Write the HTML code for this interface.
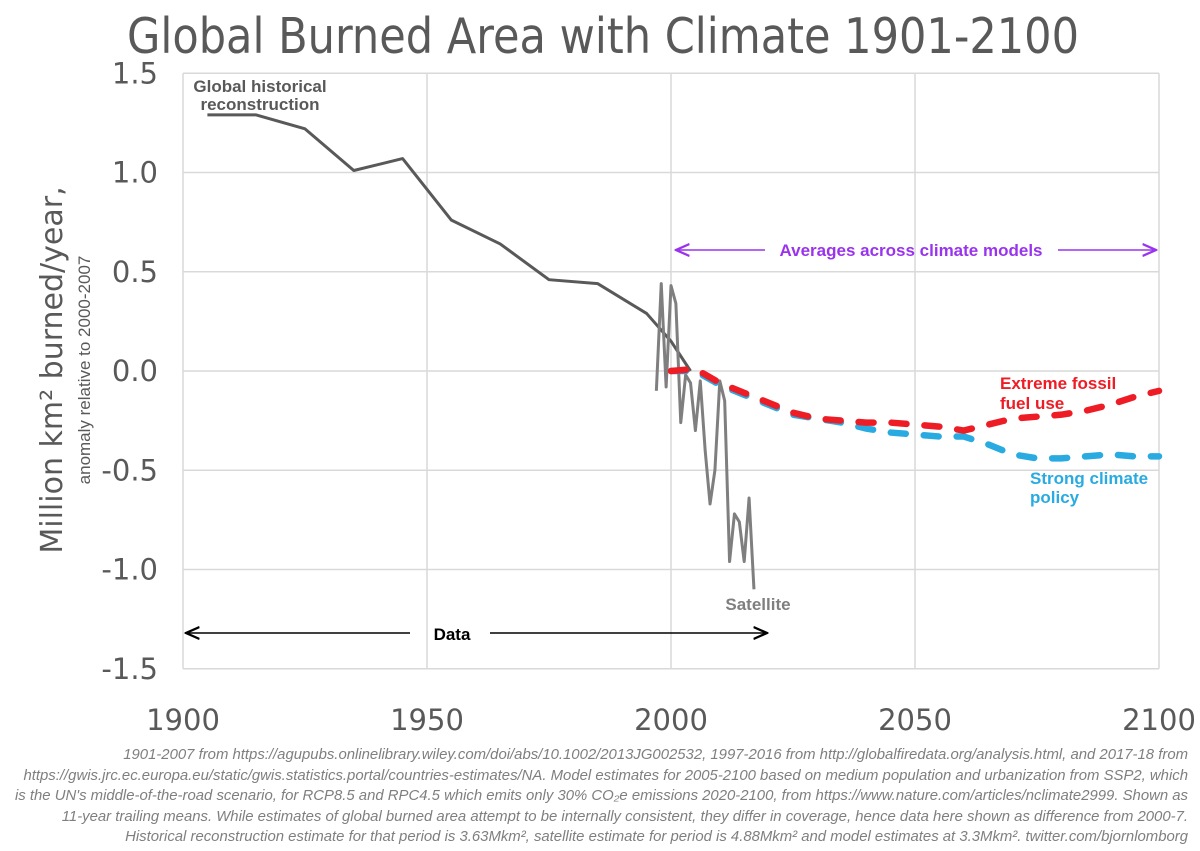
<!DOCTYPE html>
<html><head><meta charset="utf-8"><style>
body{margin:0;background:#fff;width:1200px;height:851px;overflow:hidden;font-family:"Liberation Sans",sans-serif}
.t{position:absolute}
</style></head><body>
<svg id="c" width="1200" height="851" style="position:absolute;left:0;top:0">
<defs><marker id="ab" markerWidth="10" markerHeight="10" refX="9" refY="5" orient="auto"><path d="M0,1 L9,5 L0,9" fill="none" stroke="#000" stroke-width="1.5"/></marker>
<marker id="ap" markerWidth="10" markerHeight="10" refX="9" refY="5" orient="auto"><path d="M0,1 L9,5 L0,9" fill="none" stroke="#9933ee" stroke-width="1.5"/></marker></defs>
<text x="127" y="53" font-size="49" fill="#595959" font-family="DejaVu Sans,Liberation Sans,sans-serif" textLength="952" lengthAdjust="spacingAndGlyphs">Global Burned Area with Climate 1901-2100</text>
</svg>
<div class="t" style="right:12px;top:745px;width:1195px;text-align:right;font-size:14.9px;line-height:20.5px;color:#7f7f7f;font-style:italic;white-space:nowrap">1901-2007 from https://agupubs.onlinelibrary.wiley.com/doi/abs/10.1002/2013JG002532, 1997-2016 from http://globalfiredata.org/analysis.html, and 2017-18 from<br>https://gwis.jrc.ec.europa.eu/static/gwis.statistics.portal/countries-estimates/NA. Model estimates for 2005-2100 based on medium population and urbanization from SSP2, which<br>is the UN's middle-of-the-road scenario, for RCP8.5 and RPC4.5 which emits only 30% CO₂e emissions 2020-2100, from https://www.nature.com/articles/nclimate2999. Shown as<br>11-year trailing means. While estimates of global burned area attempt to be internally consistent, they differ in coverage, hence data here shown as difference from 2000-7.<br>Historical reconstruction estimate for that period is 3.63Mkm², satellite estimate for period is 4.88Mkm² and model estimates at 3.3Mkm². twitter.com/bjornlomborg</div>
<script>
const xTicks=[1900,1950,2000,2050,2100];
const yTicks=[1.5,1.0,0.5,0.0,-0.5,-1.0,-1.5];
const histYears=[1905,1915,1925,1935,1945,1955,1965,1975,1985,1995,2000,2004];
const histVals=[1.29,1.29,1.22,1.01,1.07,0.76,0.64,0.46,0.44,0.29,0.15,0.0];
const satYears=[1997,1998,1999,2000,2001,2002,2003,2004,2005,2006,2007,2008,2009,2010,2011,2012,2013,2014,2015,2016,2017];
const satVals=[-0.1,0.44,-0.08,0.43,0.34,-0.26,-0.02,-0.06,-0.30,-0.05,-0.40,-0.67,-0.50,-0.05,-0.15,-0.96,-0.72,-0.76,-0.96,-0.64,-1.1];
const modelYears=[2000,2005,2010,2015,2020,2025,2030,2035,2040,2045,2050,2055,2060,2065,2070,2075,2080,2085,2090,2095,2100];
const highVals=[0.0,0.01,-0.06,-0.11,-0.16,-0.21,-0.24,-0.25,-0.26,-0.26,-0.27,-0.28,-0.30,-0.27,-0.24,-0.23,-0.22,-0.20,-0.17,-0.13,-0.10];
const lowVals=[0.0,0.0,-0.07,-0.12,-0.17,-0.22,-0.24,-0.26,-0.29,-0.31,-0.32,-0.33,-0.33,-0.37,-0.42,-0.44,-0.44,-0.43,-0.42,-0.43,-0.43];
const X=y=>183+(y-1900)*4.88, Y=v=>371-v*198.5;
const svg=document.getElementById('c'),NS='http://www.w3.org/2000/svg';
function mk(t,a,p){const e=document.createElementNS(NS,t);for(const k in a)e.setAttribute(k,a[k]);(p||svg).appendChild(e);return e;}
let e;
xTicks.forEach(t=>{e=mk('line',{x1:X(t),x2:X(t),y1:Y(1.5),y2:Y(-1.5),stroke:'#d9d9d9','stroke-width':1.5});

e=mk('text',{x:X(t),y:730,'text-anchor':'middle','font-size':29,fill:'#595959','font-family':'DejaVu Sans,Liberation Sans,sans-serif'});e.textContent=t;
});
yTicks.forEach(t=>{e=mk('line',{x1:X(1900),x2:X(2100),y1:Y(t),y2:Y(t),stroke:'#d9d9d9','stroke-width':1.5});

e=mk('text',{x:158,y:Y(t)+10,'text-anchor':'end','font-size':29,fill:'#595959','font-family':'DejaVu Sans,Liberation Sans,sans-serif'});e.textContent=t.toFixed(1);
});
function line(xs,vs,attr,name){e=mk('polyline',Object.assign({points:xs.map((x,i)=>X(x)+','+Y(vs[i])).join(' '),fill:'none'},attr));
}
line(histYears,histVals,{stroke:'#595959','stroke-width':3,'stroke-linejoin':'round'},'historical-line');
line(satYears,satVals,{stroke:'#7f7f7f','stroke-width':3,'stroke-linejoin':'round'},'satellite-line');
line(modelYears,lowVals,{stroke:'#29abe2','stroke-width':6.5,'stroke-dasharray':'15 18','stroke-linecap':'round'},'strong-policy-line');
line(modelYears,highVals,{stroke:'#ee1c25','stroke-width':6.5,'stroke-dasharray':'15 18','stroke-linecap':'round'},'fossil-fuel-line');
function txt(s,x,y,sz,col,name,anchor){e=mk('text',{x:x,y:y,'font-size':sz,fill:col,'font-weight':'bold','text-anchor':anchor||'start'});e.textContent=s;
}
txt('Global historical',260,92,17,'#595959','historical-label','middle');
txt('reconstruction',260,110,17,'#595959','historical-label-2','middle');
txt('Satellite',758,610,17,'#7f7f7f','satellite-label','middle');
txt('Extreme fossil',1000,389,17,'#ee1c25','fossil-label');
txt('fuel use',1000,409,17,'#ee1c25','fossil-label-2');
txt('Strong climate',1030,484,17,'#29abe2','policy-label');
txt('policy',1030,503,17,'#29abe2','policy-label-2');
txt('Averages across climate models',911,256,17,'#9933ee','models-arrow-label','middle');
txt('Data',452,640,17,'#000','data-arrow-label','middle');
function arr(x1,x2,y,c,m,name){e=mk('line',{x1:x1,x2:x2,y1:y,y2:y,stroke:c,'stroke-width':1.5,'marker-end':'url(#'+m+')'});}
arr(765,676,250,'#9933ee','ap','models-arrow-left');arr(1058,1156,250,'#9933ee','ap','models-arrow-right');
arr(410,186,633,'#000','ab','data-arrow-left');arr(490,767,633,'#000','ab','data-arrow-right');
e=mk('text',{transform:'translate(62,370) rotate(-90)','text-anchor':'middle','font-size':30,fill:'#595959','font-family':'DejaVu Sans,Liberation Sans,sans-serif'});e.textContent='Million km² burned/year,';

e=mk('text',{transform:'translate(90,370) rotate(-90)','text-anchor':'middle','font-size':17,fill:'#595959'});e.textContent='anomaly relative to 2000-2007';

</script>
</body></html>
